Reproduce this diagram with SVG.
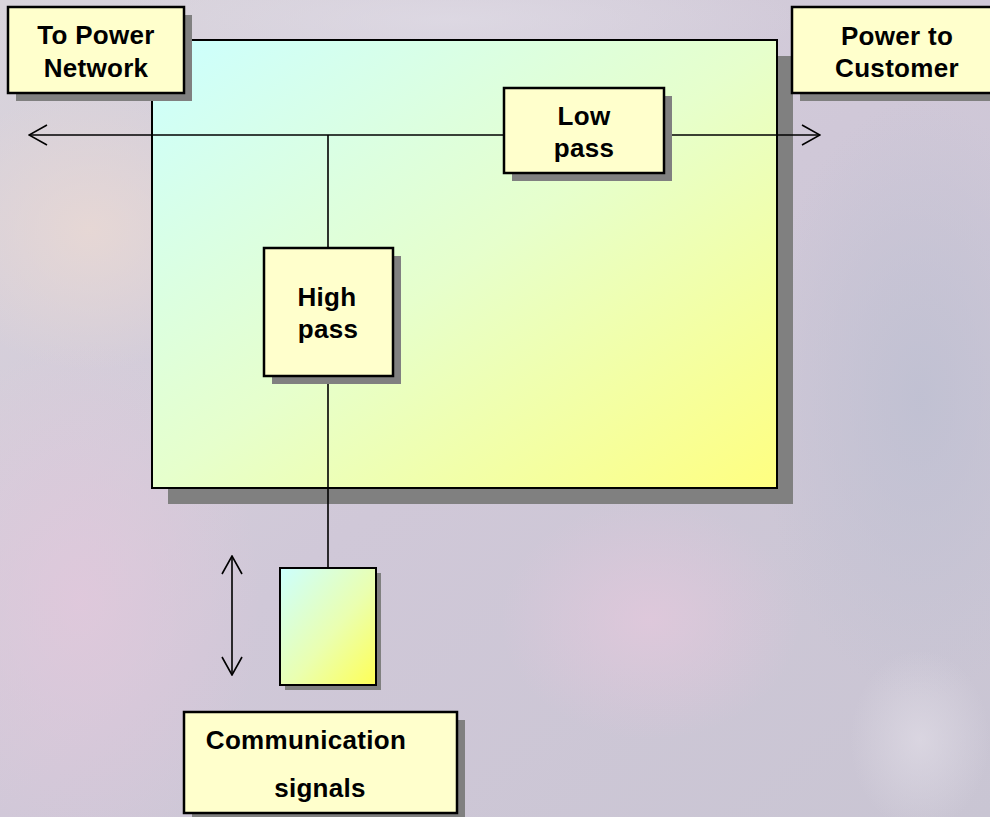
<svg xmlns="http://www.w3.org/2000/svg" width="990" height="817" viewBox="0 0 990 817">
  <defs>
    <linearGradient id="bgBase" x1="0" y1="0" x2="1" y2="1">
      <stop offset="0" stop-color="#d9d4dc"/>
      <stop offset="0.5" stop-color="#d0c8d8"/>
      <stop offset="1" stop-color="#c9c5d3"/>
    </linearGradient>
    <radialGradient id="blobBeige" cx="0.5" cy="0.5" r="0.5">
      <stop offset="0" stop-color="#e8d8d4" stop-opacity="0.9"/>
      <stop offset="1" stop-color="#e8d8d4" stop-opacity="0"/>
    </radialGradient>
    <radialGradient id="blobPink" cx="0.5" cy="0.5" r="0.5">
      <stop offset="0" stop-color="#e2c8dc" stop-opacity="0.8"/>
      <stop offset="1" stop-color="#e2c8dc" stop-opacity="0"/>
    </radialGradient>
    <radialGradient id="blobBlue" cx="0.5" cy="0.5" r="0.5">
      <stop offset="0" stop-color="#bfc0d2" stop-opacity="0.9"/>
      <stop offset="1" stop-color="#bfc0d2" stop-opacity="0"/>
    </radialGradient>
    <radialGradient id="blobLight" cx="0.5" cy="0.5" r="0.5">
      <stop offset="0" stop-color="#e0dce6" stop-opacity="0.7"/>
      <stop offset="1" stop-color="#e0dce6" stop-opacity="0"/>
    </radialGradient>
    <linearGradient id="panelGrad" x1="0" y1="0" x2="1" y2="1">
      <stop offset="0" stop-color="#ccffff"/>
      <stop offset="0.5" stop-color="#e6ffcc"/>
      <stop offset="1" stop-color="#ffff80"/>
    </linearGradient>
    <linearGradient id="smallGrad" x1="0" y1="0" x2="1" y2="1">
      <stop offset="0" stop-color="#ccffff"/>
      <stop offset="0.55" stop-color="#eaffb0"/>
      <stop offset="1" stop-color="#ffff55"/>
    </linearGradient>
    <marker id="open" viewBox="0 0 20 22" refX="19" refY="11" markerWidth="20" markerHeight="22" markerUnits="userSpaceOnUse" orient="auto-start-reverse">
      <path d="M1,1 L19,11 L1,21" fill="none" stroke="#000" stroke-width="1.6"/>
    </marker>
  </defs>
  <style>
    .shadow { fill: #808080; }
    .label { fill: #ffffcc; stroke: #000; stroke-width: 2.5; }
    .txt { font-family: "Liberation Sans", Arial, sans-serif; font-weight: bold; font-size: 26px; letter-spacing: 0.3px; fill: #000; text-anchor: middle; }
    .line { stroke: #000; stroke-width: 1.6; fill: none; }
  </style>

  <g id="background">
    <rect x="0" y="0" width="990" height="817" fill="url(#bgBase)"/>
    <ellipse cx="90" cy="230" rx="160" ry="140" fill="url(#blobBeige)"/>
    <ellipse cx="80" cy="600" rx="180" ry="260" fill="url(#blobPink)"/>
    <ellipse cx="650" cy="620" rx="150" ry="120" fill="url(#blobPink)"/>
    <ellipse cx="920" cy="400" rx="160" ry="300" fill="url(#blobBlue)"/>
    <ellipse cx="450" cy="20" rx="350" ry="60" fill="url(#blobLight)"/>
    <ellipse cx="920" cy="740" rx="70" ry="90" fill="url(#blobLight)"/>
  </g>

  <g id="coupler">
    <rect class="shadow" x="168" y="56" width="625" height="448"/>
    <rect x="152" y="40" width="625" height="448" fill="url(#panelGrad)" stroke="#000" stroke-width="2"/>
  </g>

  <g id="connectors">
    <line class="line" x1="29" y1="135" x2="820" y2="135" marker-start="url(#open)" marker-end="url(#open)"/>
    <line class="line" x1="328" y1="135" x2="328" y2="248"/>
    <line class="line" x1="328" y1="376" x2="328" y2="568"/>
    <line class="line" x1="232" y1="556" x2="232" y2="675" marker-start="url(#open)" marker-end="url(#open)"/>
  </g>

  <g id="to-power-network">
    <rect class="shadow" x="16" y="15" width="176" height="86"/>
    <rect class="label" x="8" y="7" width="176" height="86"/>
    <text class="txt" x="96" y="44">To Power</text>
    <text class="txt" x="96" y="77">Network</text>
  </g>

  <g id="power-to-customer">
    <rect class="shadow" x="800" y="15" width="210" height="86"/>
    <rect class="label" x="792" y="7" width="210" height="86"/>
    <text class="txt" x="897" y="45">Power to</text>
    <text class="txt" x="897" y="77">Customer</text>
  </g>

  <g id="low-pass">
    <rect class="shadow" x="512" y="96" width="160" height="85"/>
    <rect class="label" x="504" y="88" width="160" height="85"/>
    <text class="txt" x="584" y="125">Low</text>
    <text class="txt" x="584" y="157">pass</text>
  </g>

  <g id="high-pass">
    <rect class="shadow" x="272" y="256" width="129" height="128"/>
    <rect class="label" x="264" y="248" width="129" height="128"/>
    <text class="txt" x="327" y="306">High</text>
    <text class="txt" x="328" y="338">pass</text>
  </g>

  <g id="modem">
    <rect class="shadow" x="285" y="573" width="96" height="117"/>
    <rect x="280" y="568" width="96" height="117" fill="url(#smallGrad)" stroke="#000" stroke-width="2"/>
  </g>

  <g id="communication-signals">
    <rect class="shadow" x="192" y="720" width="273" height="101"/>
    <rect class="label" x="184" y="712" width="273" height="101"/>
    <text class="txt" x="306" y="749">Communication</text>
    <text class="txt" x="320" y="797">signals</text>
  </g>
</svg>
